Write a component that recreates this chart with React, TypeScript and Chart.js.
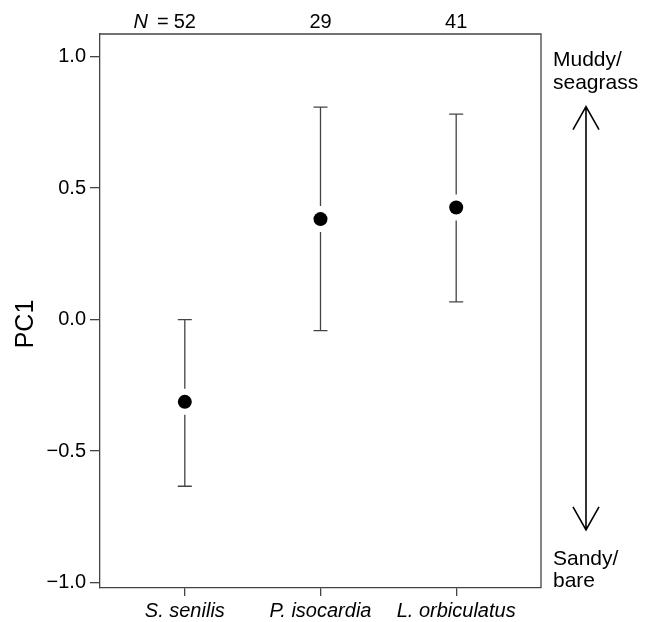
import React, { useEffect, useRef } from "react";
import { Chart, registerables } from "chart.js";
Chart.register(...registerables);

const species = ["S. senilis", "P. isocardia", "L. orbiculatus"];
const sampleSizes = [52, 29, 41];
const meanPC1 = [-0.313, 0.382, 0.426];
const upperPC1 = [0.0, 0.808, 0.781];
const lowerPC1 = [-0.634, -0.042, 0.067];
const yTicks = [-1.0, -0.5, 0.0, 0.5, 1.0];
const topNote = ["Muddy/", "seagrass"];
const bottomNote = ["Sandy/", "bare"];
const arrowRange = [0.81, -0.8];
const yTitle = "PC1";

const FONT = '"Liberation Sans", Arial, Helvetica, sans-serif';
const AXIS = "#444";
const TEXT = "#000";

const decor = {
  id: "decor",
  beforeDatasetsDraw(chart: any) {
    const { ctx, chartArea: a, scales } = chart;
    const x = scales.x, y = scales.y;
    ctx.save();
    ctx.strokeStyle = AXIS;
    ctx.lineWidth = 1.3;
    ctx.beginPath();
    ctx.moveTo(a.left, a.top);
    ctx.lineTo(a.right, a.top);
    ctx.lineTo(a.right, a.bottom);
    ctx.stroke();
    species.forEach((_, i) => {
      const px = x.getPixelForValue(i);
      const pu = y.getPixelForValue(upperPC1[i]);
      const pm = y.getPixelForValue(meanPC1[i]);
      const pl = y.getPixelForValue(lowerPC1[i]);
      const gap = 13, cap = 7;
      ctx.beginPath();
      if (pm - gap > pu) { ctx.moveTo(px, pu); ctx.lineTo(px, pm - gap); }
      if (pm + gap < pl) { ctx.moveTo(px, pm + gap); ctx.lineTo(px, pl); }
      ctx.moveTo(px - cap, pu); ctx.lineTo(px + cap, pu);
      ctx.moveTo(px - cap, pl); ctx.lineTo(px + cap, pl);
      ctx.stroke();
    });
    ctx.restore();
  },
  afterDraw(chart: any) {
    const { ctx, chartArea: a, scales } = chart;
    const x = scales.x, y = scales.y;
    ctx.save();
    ctx.fillStyle = TEXT;
    ctx.textBaseline = "alphabetic";
    sampleSizes.forEach((n, i) => {
      const px = x.getPixelForValue(i);
      ctx.font = `20px ${FONT}`;
      ctx.textAlign = "center";
      const s = String(n);
      ctx.fillText(s, px, a.top - 6);
      if (i === 0) {
        const w = ctx.measureText(s).width;
        ctx.textAlign = "right";
        ctx.fillText("=", px - w / 2 - 5, a.top - 6);
        const ew = ctx.measureText("=").width;
        ctx.font = `italic 20px ${FONT}`;
        ctx.fillText("N", px - w / 2 - 5 - ew - 9, a.top - 6);
      }
    });
    // y title
    ctx.save();
    ctx.font = `25px ${FONT}`;
    ctx.textAlign = "center";
    ctx.textBaseline = "middle";
    ctx.translate(26, (a.top + a.bottom) / 2 + 13);
    ctx.rotate(-Math.PI / 2);
    ctx.fillText(yTitle, 0, 0);
    ctx.restore();
    // arrow
    const ax = a.right + 45;
    const yt = y.getPixelForValue(arrowRange[0]);
    const yb = y.getPixelForValue(arrowRange[1]);
    ctx.strokeStyle = "#000";
    ctx.lineWidth = 1.6;
    ctx.beginPath();
    ctx.moveTo(ax, yt); ctx.lineTo(ax, yb);
    ctx.moveTo(ax - 13, yt + 23); ctx.lineTo(ax, yt); ctx.lineTo(ax + 13, yt + 23);
    ctx.moveTo(ax - 13, yb - 23); ctx.lineTo(ax, yb); ctx.lineTo(ax + 13, yb - 23);
    ctx.stroke();
    // notes
    ctx.font = `21px ${FONT}`;
    ctx.textAlign = "left";
    ctx.textBaseline = "alphabetic";
    const tx = a.right + 12;
    ctx.fillText(topNote[0], tx, 66);
    ctx.fillText(topNote[1], tx, 89);
    ctx.fillText(bottomNote[0], tx, 565);
    ctx.fillText(bottomNote[1], tx, 587);
    ctx.restore();
  },
};

export default function App() {
  const ref = useRef<HTMLCanvasElement | null>(null);
  useEffect(() => {
    if (!ref.current) return;
    Chart.defaults.font.family = FONT;
    const chart = new Chart(ref.current, {
      type: "scatter",
      data: {
        datasets: [
          {
            data: meanPC1.map((v, i) => ({ x: i, y: v })),
            pointRadius: 7,
            pointHoverRadius: 7,
            backgroundColor: "#000",
            borderWidth: 0,
            showLine: false,
          },
        ],
      },
      options: {
        responsive: false,
        animation: false,
        devicePixelRatio: 1,
        layout: { padding: { top: 34, right: 110, left: 0, bottom: 0 } },
        plugins: { legend: { display: false }, tooltip: { enabled: false } },
        scales: {
          x: {
            type: "linear",
            min: -0.625,
            max: 2.625,
            afterBuildTicks: (s: any) => {
              s.ticks = species.map((_, i) => ({ value: i }));
            },
            afterFit: (s: any) => { s.height = 34; },
            ticks: {
              autoSkip: false,
              maxRotation: 0,
              padding: 3,
              color: TEXT,
              font: { size: 20, style: "italic", family: FONT },
              callback: (v: any) => species[v] ?? "",
            },
            grid: { display: true, drawOnChartArea: false, drawTicks: true, tickLength: 8, color: AXIS, lineWidth: 1.3 },
            border: { display: true, color: AXIS, width: 1.3 },
          },
          y: {
            type: "linear",
            min: -1.021,
            max: 1.086,
            afterBuildTicks: (s: any) => {
              s.ticks = yTicks.map((v) => ({ value: v }));
            },
            afterFit: (s: any) => { s.width = 100; },
            ticks: {
              padding: 4,
              color: TEXT,
              font: { size: 20, family: FONT },
              callback: (v: any) => Number(v).toFixed(1).replace("-", "\u2212"),
            },
            grid: { display: true, drawOnChartArea: false, drawTicks: true, tickLength: 10, color: AXIS, lineWidth: 1.3 },
            border: { display: true, color: AXIS, width: 1.3 },
          },
        },
      },
      plugins: [decor],
    });
    return () => chart.destroy();
  }, []);
  return (
    <div style={{ position: "absolute", left: 0, top: 0, width: 651, height: 622, background: "#fff" }}>
      <canvas ref={ref} width={651} height={622} style={{ width: 651, height: 622, display: "block" }} />
    </div>
  );
}
